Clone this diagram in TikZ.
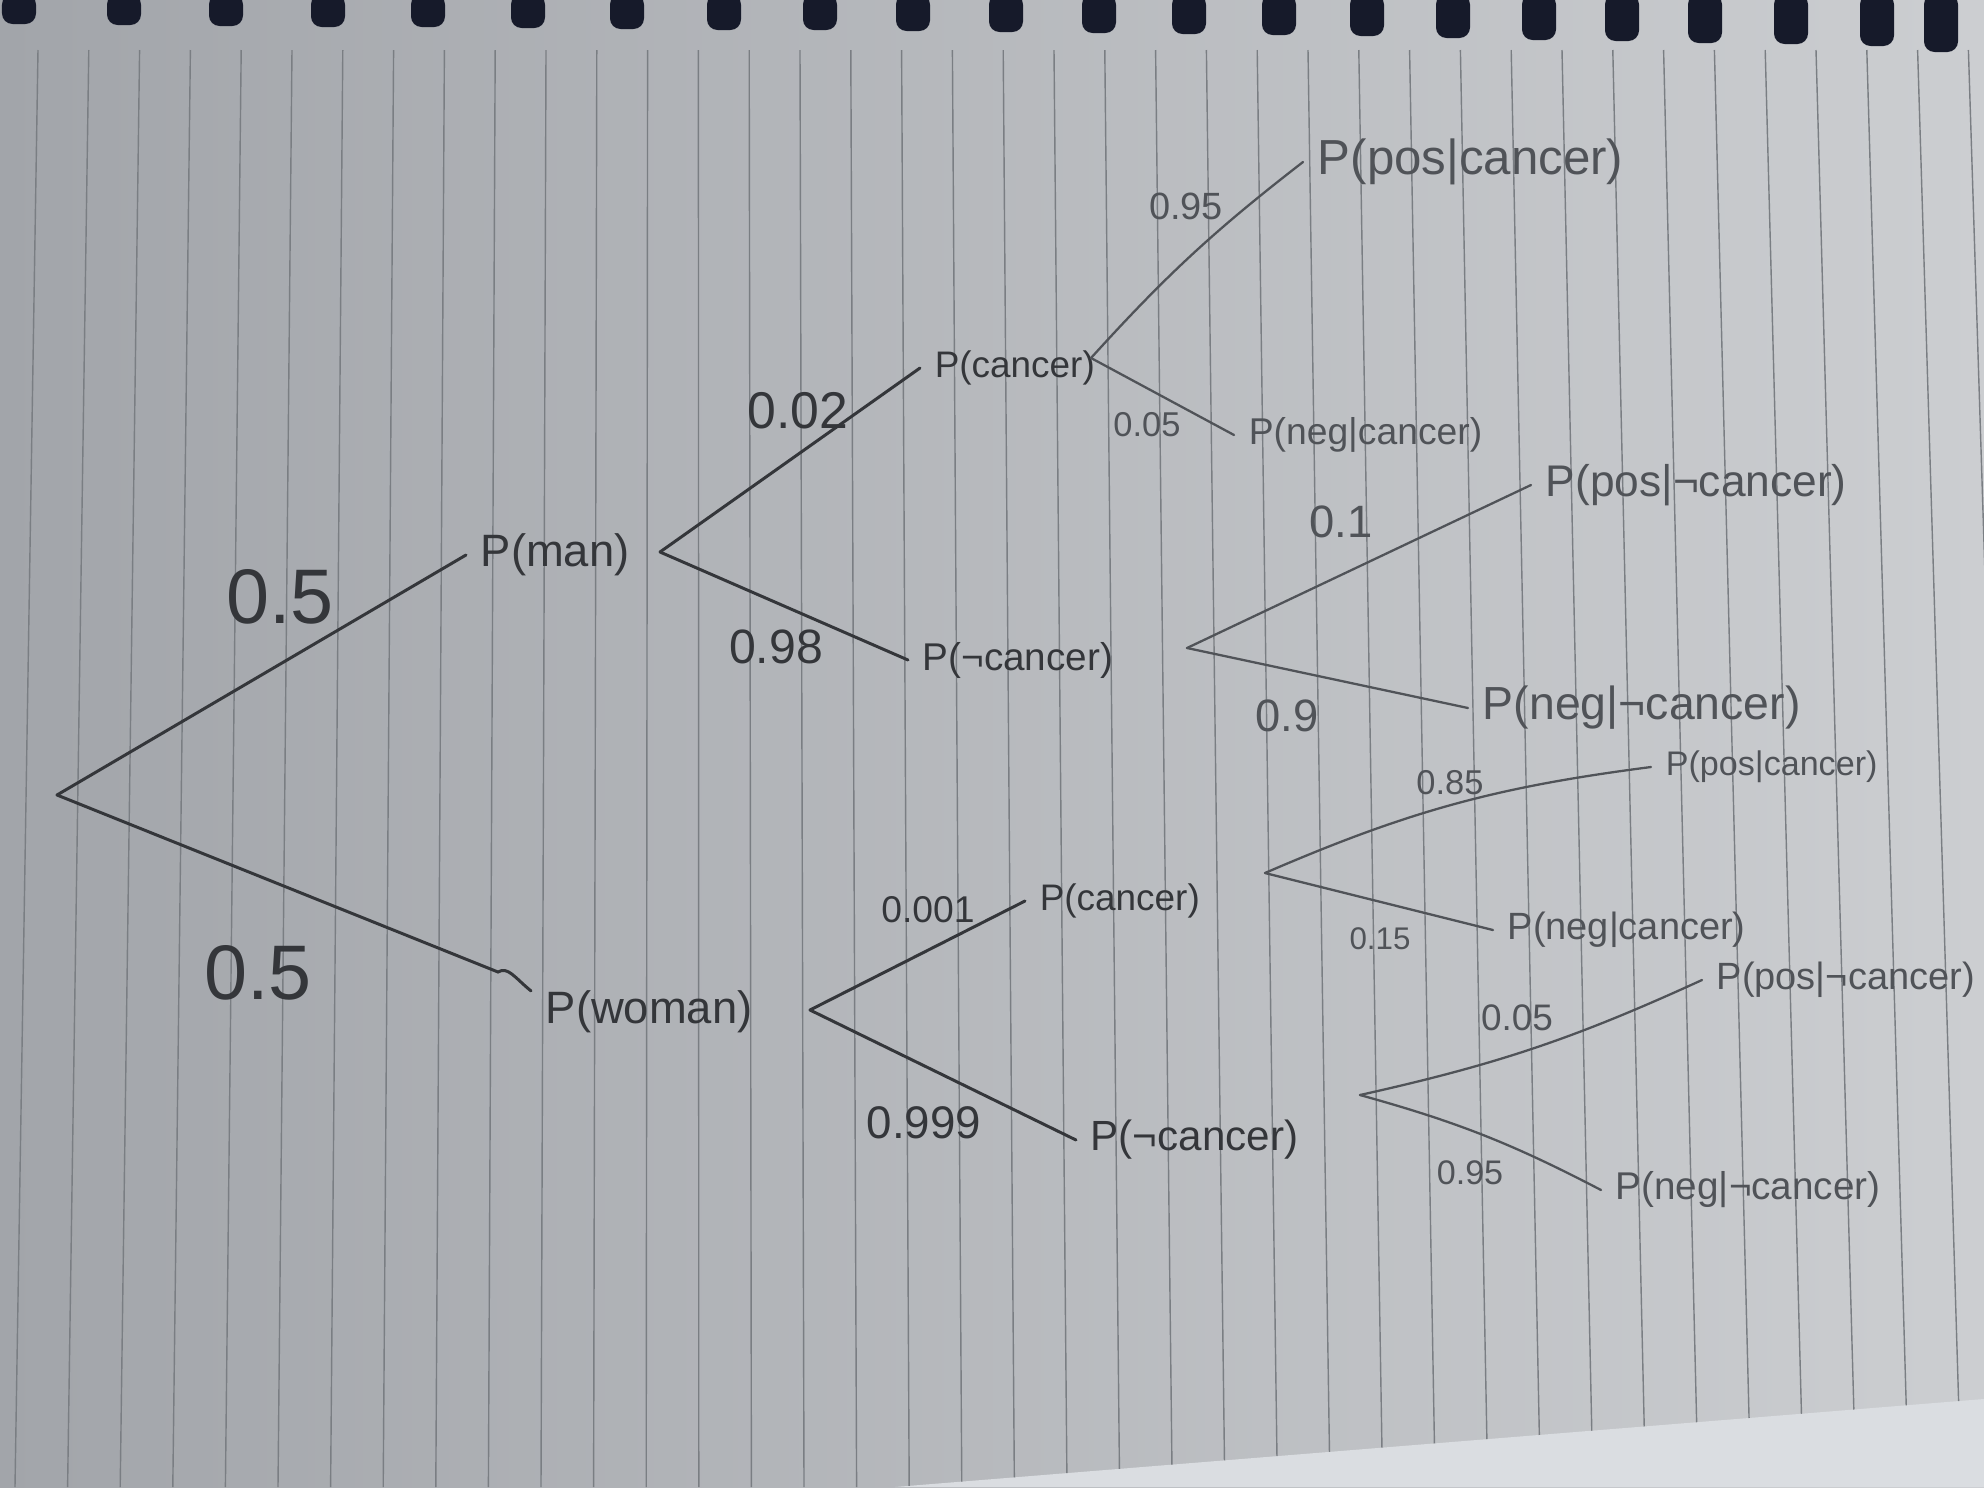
\documentclass[tikz,border=0pt]{standalone}
\usepackage{fontspec}
\setmainfont{Liberation Sans}
\definecolor{paperL}{RGB}{162,165,170}
\definecolor{paperR}{RGB}{204,206,209}
\definecolor{paperE}{RGB}{218,221,225}
\definecolor{rulecol}{RGB}{122,126,131}
\definecolor{holecol}{RGB}{22,26,42}
\definecolor{inkA}{RGB}{52,54,58}
\definecolor{inkB}{RGB}{80,83,88}
\tikzset{
  rule/.style={draw=rulecol, line width=0.4pt},
  hole/.style={fill=holecol, rounded corners=3},
  branchA/.style={draw=inkA, line width=0.85pt, line cap=round},
  branchB/.style={draw=inkB, line width=0.65pt, line cap=round},
  lbl/.style={font=\fontsize{#1pt}{#1pt}\selectfont, text=inkA, inner xsep=4pt, inner ysep=1pt, anchor=west},
  lblB/.style={font=\fontsize{#1pt}{#1pt}\selectfont, text=inkB, inner xsep=4pt, inner ysep=1pt, anchor=west},
  num/.style={font=\fontsize{#1pt}{#1pt}\selectfont, text=inkA, inner sep=0pt},
  numB/.style={font=\fontsize{#1pt}{#1pt}\selectfont, text=inkB, inner sep=0pt}
}
\begin{document}
\begin{tikzpicture}[x=0.01cm,y=-0.01cm]
\useasboundingbox (0,0) rectangle (1984,1487);
% paper
\shade[left color=paperL, right color=paperR] (0,0) rectangle (1984,1487);
\fill[paperE] (895,1487) -- (1984,1399) -- (1984,1487) -- cycle;
\begin{scope}
  \clip (0,0) -- (1984,0) -- (1984,1399) -- (895,1487) -- (0,1487) -- cycle;
  \foreach \i in {0,...,38} {
    \draw[rule] ({38+50.8*\i},50) -- ({15+52.6*\i},1487);
  }
\end{scope}
% spiral holes
\foreach \x/\h in {19/24,124/25,226/26,328/27,428/27,528/28,627/29,724/30,820/30,913/31,1006/32,1099/33,1189/34,1279/35,1367/36,1453/38,1539/40,1622/41,1705/43,1791/44,1877/46,1941/52} {
  \fill[hole] ({\x-17},-6) rectangle ({\x+17},\h);
}

% junction points
\coordinate (root) at (57,795);
\coordinate (jman) at (660,552);
\coordinate (jwoman) at (810,1010);
\coordinate (jcan1) at (1091,358);
\coordinate (jnot1) at (1187,648);
\coordinate (jcan2) at (1265,873);
\coordinate (jnot2) at (1360,1095);

% outcome nodes
\node[lbl=12.9] (pman) at (466,555) {P(man)};
\node[lbl=12.9] (pwoman) at (531,1012) {P(woman)};
\node[lbl=10.5] (pcan1) at (920,368) {P(cancer)};
\node[lbl=11] (pnot1) at (908,660) {P(¬cancer)};
\node[lblB=14] (ppos1) at (1303,162) {P(pos|cancer)};
\node[lblB=10.6] (pneg1) at (1234,435) {P(neg|cancer)};
\node[lblB=12.6] (pposn1) at (1531,485) {P(pos|¬cancer)};
\node[lblB=13.2] (pnegn1) at (1468,708) {P(neg|¬cancer)};
\node[lbl=10.5] (pcan2) at (1025,901) {P(cancer)};
\node[lbl=12] (pnot2) at (1076,1140) {P(¬cancer)};
\node[lblB=9.7] (ppos2) at (1651,767) {P(pos|cancer)};
\node[lblB=10.8] (pneg2) at (1493,930) {P(neg|cancer)};
\node[lblB=10.8] (pposn2) at (1702,980) {P(pos|¬cancer)};
\node[lblB=11] (pnegn2) at (1601,1190) {P(neg|¬cancer)};

% probability labels
\node[num=22] (n1) at (280,597) {0.5};
\node[num=22] (n2) at (258,973) {0.5};
\node[num=14.7] (n3) at (798,411) {0.02};
\node[num=13.7] (n4) at (776,647) {0.98};
\node[numB=10.8] (n5) at (1186,206) {0.95};
\node[numB=9.8] (n6) at (1147,425) {0.05};
\node[numB=12.9] (n7) at (1341,522) {0.1};
\node[numB=12.9] (n8) at (1287,716) {0.9};
\node[num=10.6] (n9) at (928,910) {0.001};
\node[num=13] (n10) at (924,1123) {0.999};
\node[numB=9.8] (n11) at (1450,783) {0.85};
\node[numB=8.9] (n12) at (1380,939) {0.15};
\node[numB=10.5] (n13) at (1517,1018) {0.05};
\node[numB=9.7] (n14) at (1470,1173) {0.95};

% branches
\draw[branchA] (root) -- (pman.west);
\draw[branchA] (root) -- (498,972) .. controls (508,966) and (515,978) .. ([yshift=6pt]pwoman.west);
\draw[branchA] (jman) -- (pcan1.west);
\draw[branchA] (jman) -- (pnot1.west);
\draw[branchA] (jwoman) -- (pcan2.west);
\draw[branchA] (jwoman) -- (pnot2.west);
\draw[branchB] (jcan1) to[bend left=5] (ppos1.west);
\draw[branchB] (jcan1) -- (pneg1.west);
\draw[branchB] (jnot1) -- (pposn1.west);
\draw[branchB] (jnot1) -- (pnegn1.west);
\draw[branchB] (jcan2) to[bend left=8] (ppos2.west);
\draw[branchB] (jcan2) -- (pneg2.west);
\draw[branchB] (jnot2) to[bend right=6] (pposn2.west);
\draw[branchB] (jnot2) to[bend left=6] (pnegn2.west);
\end{tikzpicture}
\end{document}
